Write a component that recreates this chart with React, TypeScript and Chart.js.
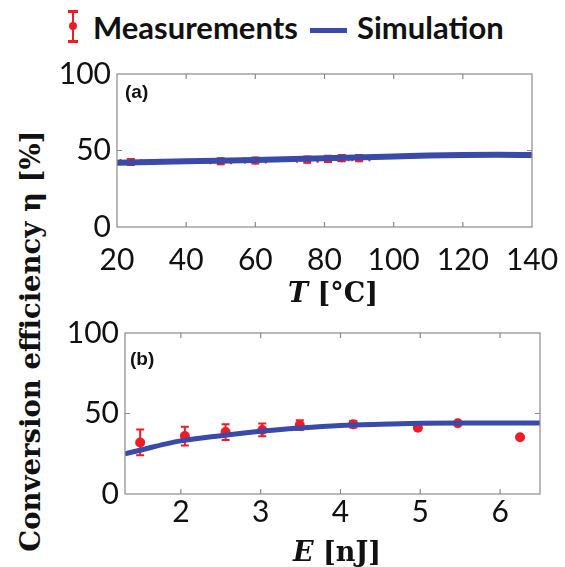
import React, { useEffect, useRef } from "react";
import { Chart, registerables } from "chart.js";

Chart.register(...registerables);

// ---------- data ----------
// Panel (a): temperature
const tempX = [24, 50, 60, 75, 81, 85, 90];
const tempEff = [42.5, 43, 43.5, 44, 44.5, 45, 45];
const tempXErr = [3, 3, 3, 3, 3, 3, 3];
const tempYErr = [2, 2, 2, 2, 2, 2, 2];
const simTempX = [20, 40, 60, 80, 100, 110, 120, 130, 140];
const simTempEff = [42, 43, 43.8, 45, 46, 46.7, 47.1, 47.2, 47];
const tempTicks = [20, 40, 60, 80, 100, 120, 140];

// Panel (b): pulse energy
const energyX = [1.49, 2.05, 2.56, 3.02, 3.49, 4.16, 4.97, 5.47, 6.25];
const energyEff = [32, 36, 38.5, 39.8, 42.8, 43.3, 41.2, 43.9, 35.2];
const energyYErr = [8, 5.8, 4.9, 4, 3, 2, 0, 0, 0];
const simEnergyX = [1.3, 1.5, 1.8, 2, 2.5, 3, 3.5, 4, 4.5, 5, 5.5, 6, 6.5];
const simEnergyEff = [25, 27.3, 31, 33, 36.2, 39, 41, 42.5, 43.3, 43.9, 44.1, 44.1, 44.1];
const energyTicks = [2, 3, 4, 5, 6];

const yTicks = [0, 50, 100];

const RED = "#ee1d24";
const BLUE = "#3a4aa8";
const TICK_FONT = "Lato";

// ---------- plugins ----------
const errorBarPlugin = {
  id: "errorBars",
  beforeDatasetsDraw(chart: any) {
    const ctx = chart.ctx;
    const xs = chart.scales.x;
    const ys = chart.scales.y;
    chart.data.datasets.forEach((ds: any) => {
      if (!ds.yErr && !ds.xErr) return;
      ctx.save();
      ctx.strokeStyle = RED;
      ctx.lineWidth = 2;
      ds.data.forEach((p: any, i: number) => {
        const px = xs.getPixelForValue(p.x);
        const py = ys.getPixelForValue(p.y);
        const ye = ds.yErr ? ds.yErr[i] : 0;
        const xe = ds.xErr ? ds.xErr[i] : 0;
        const cap = 4;
        if (ye > 0) {
          const t = ys.getPixelForValue(p.y + ye);
          const b = ys.getPixelForValue(p.y - ye);
          ctx.beginPath();
          ctx.moveTo(px, t);
          ctx.lineTo(px, b);
          ctx.moveTo(px - cap, t);
          ctx.lineTo(px + cap, t);
          ctx.moveTo(px - cap, b);
          ctx.lineTo(px + cap, b);
          ctx.stroke();
        }
        if (xe > 0) {
          const l = xs.getPixelForValue(p.x - xe);
          const r = xs.getPixelForValue(p.x + xe);
          ctx.beginPath();
          ctx.moveTo(l, py);
          ctx.lineTo(r, py);
          ctx.moveTo(l, py - 3);
          ctx.lineTo(l, py + 3);
          ctx.moveTo(r, py - 3);
          ctx.lineTo(r, py + 3);
          ctx.stroke();
        }
      });
      ctx.restore();
    });
  },
};

const boxPlugin = {
  id: "boxAndTicks",
  afterDraw(chart: any, _args: any, opts: any) {
    const ctx = chart.ctx;
    const a = chart.chartArea;
    const xs = chart.scales.x;
    const ys = chart.scales.y;
    ctx.save();
    ctx.strokeStyle = "#8a8a8a";
    ctx.lineWidth = 1.2;
    ctx.strokeRect(a.left, a.top, a.right - a.left, a.bottom - a.top);
    const len = 5;
    ctx.beginPath();
    xs.ticks.forEach((t: any) => {
      const x = xs.getPixelForValue(t.value);
      if (x <= a.left + 1 || x >= a.right - 1) return;
      ctx.moveTo(x, a.bottom);
      ctx.lineTo(x, a.bottom - len);
      ctx.moveTo(x, a.top);
      ctx.lineTo(x, a.top + len);
    });
    ys.ticks.forEach((t: any) => {
      const y = ys.getPixelForValue(t.value);
      if (y <= a.top + 1 || y >= a.bottom - 1) return;
      ctx.moveTo(a.left, y);
      ctx.lineTo(a.left + len, y);
      ctx.moveTo(a.right, y);
      ctx.lineTo(a.right - len, y);
    });
    ctx.stroke();
    if (opts && opts.text) {
      ctx.fillStyle = "#111";
      ctx.font = "bold 19px 'Liberation Sans', Arial, sans-serif";
      ctx.textBaseline = "top";
      ctx.textAlign = "left";
      ctx.fillText(opts.text, a.left + opts.dx, a.top + opts.dy);
    }
    ctx.restore();
  },
};

// ---------- panel ----------
type PanelProps = {
  left: number;
  top: number;
  width: number;
  height: number;
  yAxisW: number;
  xAxisH: number;
  padTop: number;
  padRight: number;
  xTickPad: number;
  xMin: number;
  xMax: number;
  xTicks: number[];
  measX: number[];
  measY: number[];
  measXErr?: number[];
  measYErr?: number[];
  simX: number[];
  simY: number[];
  pointRadius: number;
  lineWidth: number;
  label: string;
  labelDx: number;
  labelDy: number;
};

function Panel(p: PanelProps) {
  const ref = useRef<HTMLCanvasElement | null>(null);
  useEffect(() => {
    if (!ref.current) return;
    const chart = new Chart(ref.current, {
      type: "scatter",
      data: {
        datasets: [
          {
            label: "Simulation",
            data: p.simX.map((x, i) => ({ x, y: p.simY[i] })),
            showLine: true,
            borderColor: BLUE,
            backgroundColor: BLUE,
            borderWidth: p.lineWidth,
            pointRadius: 0,
            cubicInterpolationMode: "monotone",
            order: 0,
          } as any,
          {
            label: "Measurements",
            data: p.measX.map((x, i) => ({ x, y: p.measY[i] })),
            backgroundColor: RED,
            borderColor: RED,
            pointRadius: p.pointRadius,
            pointBorderWidth: 0,
            xErr: p.measXErr,
            yErr: p.measYErr,
            order: 1,
          } as any,
        ],
      },
      options: {
        animation: false,
        responsive: false,
        maintainAspectRatio: false,
        layout: { padding: { left: 0, right: p.padRight, top: p.padTop, bottom: 0 } },
        plugins: {
          legend: { display: false },
          tooltip: { enabled: false },
          boxAndTicks: { text: p.label, dx: p.labelDx, dy: p.labelDy },
        } as any,
        scales: {
          x: {
            type: "linear",
            min: p.xMin,
            max: p.xMax,
            grid: { display: false, drawTicks: false },
            border: { display: false },
            ticks: {
              font: { family: TICK_FONT, size: 30 },
              color: "#111",
              padding: p.xTickPad,
              maxRotation: 0,
              autoSkip: false,
            },
            afterBuildTicks: (s: any) => {
              s.ticks = p.xTicks.map((v) => ({ value: v }));
            },
            afterFit: (s: any) => {
              s.height = p.xAxisH;
            },
          },
          y: {
            type: "linear",
            min: 0,
            max: 100,
            grid: { display: false, drawTicks: false },
            border: { display: false },
            ticks: {
              font: { family: TICK_FONT, size: 30 },
              color: "#111",
              padding: 6,
            },
            afterBuildTicks: (s: any) => {
              s.ticks = yTicks.map((v) => ({ value: v }));
            },
            afterFit: (s: any) => {
              s.width = p.yAxisW;
            },
          },
        },
      },
      plugins: [errorBarPlugin, boxPlugin],
    });
    return () => chart.destroy();
  }, []);
  return (
    <canvas
      ref={ref}
      width={p.width}
      height={p.height}
      style={{ position: "absolute", left: p.left, top: p.top, width: p.width, height: p.height }}
    />
  );
}

const serifBold = "'DejaVu Serif', 'Liberation Serif', serif";

export default function App() {
  return (
    <div
      style={{
        position: "absolute",
        left: 0,
        top: 0,
        width: 565,
        height: 567,
        background: "#fff",
        overflow: "hidden",
      }}
    >
      {/* legend */}
      <div style={{ position: "absolute", left: 72, top: 11, width: 2, height: 31, background: RED }} />
      <div style={{ position: "absolute", left: 68, top: 10, width: 10, height: 3, background: RED }} />
      <div style={{ position: "absolute", left: 68, top: 40, width: 10, height: 3, background: RED }} />
      <div
        style={{
          position: "absolute",
          left: 69,
          top: 22,
          width: 8,
          height: 8,
          borderRadius: 4,
          background: RED,
        }}
      />
      <div
        style={{
          position: "absolute",
          left: 93,
          top: 27,
          transform: "translateY(-50%)",
          font: `bold 31px ${TICK_FONT}, sans-serif`,
          color: "#111",
          whiteSpace: "nowrap",
          lineHeight: 1,
        }}
      >
        Measurements
      </div>
      <div style={{ position: "absolute", left: 310, top: 28, width: 37, height: 5, background: BLUE }} />
      <div
        style={{
          position: "absolute",
          left: 357,
          top: 27,
          transform: "translateY(-50%)",
          font: `bold 31px ${TICK_FONT}, sans-serif`,
          color: "#111",
          whiteSpace: "nowrap",
          lineHeight: 1,
        }}
      >
        Simulation
      </div>

      {/* y title */}
      <div
        style={{
          position: "absolute",
          left: 31,
          top: 341,
          transform: "translate(-50%, -50%) rotate(-90deg)",
          font: `bold 27.5px ${serifBold}`,
          color: "#111",
          whiteSpace: "nowrap",
          lineHeight: 1,
        }}
      >
        Conversion efficiency η [%]
      </div>

      <Panel
        left={40}
        top={49}
        width={540}
        height={261}
        yAxisW={77}
        xAxisH={83}
        padTop={25}
        padRight={48}
        xTickPad={15}
        xMin={20}
        xMax={140}
        xTicks={tempTicks}
        measX={tempX}
        measY={tempEff}
        measXErr={tempXErr}
        measYErr={tempYErr}
        simX={simTempX}
        simY={simTempEff}
        pointRadius={4}
        lineWidth={6}
        label="(a)"
        labelDx={8}
        labelDy={9}
      />
      <Panel
        left={40}
        top={308}
        width={525}
        height={259}
        yAxisW={85}
        xAxisH={73}
        padTop={25}
        padRight={25}
        xTickPad={0}
        xMin={1.3}
        xMax={6.5}
        xTicks={energyTicks}
        measX={energyX}
        measY={energyEff}
        measYErr={energyYErr}
        simX={simEnergyX}
        simY={simEnergyEff}
        pointRadius={5}
        lineWidth={5}
        label="(b)"
        labelDx={5}
        labelDy={17}
      />

      {/* x titles */}
      <div
        style={{
          position: "absolute",
          left: 333,
          top: 292,
          transform: "translate(-50%, -50%)",
          font: `bold 27px ${serifBold}`,
          color: "#111",
          whiteSpace: "nowrap",
          lineHeight: 1,
        }}
      >
        <i>T</i> [°C]
      </div>
      <div
        style={{
          position: "absolute",
          left: 337,
          top: 551,
          transform: "translate(-50%, -50%)",
          font: `bold 27px ${serifBold}`,
          color: "#111",
          whiteSpace: "nowrap",
          lineHeight: 1,
        }}
      >
        <i>E</i> [nJ]
      </div>
    </div>
  );
}
